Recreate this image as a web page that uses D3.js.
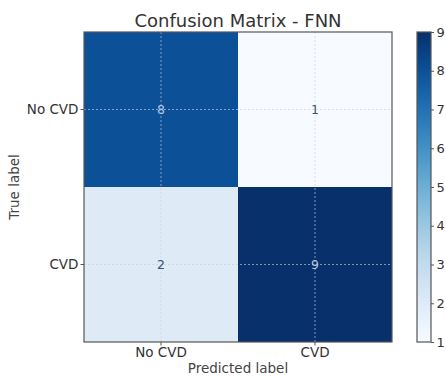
<!DOCTYPE html>
<html><head><meta charset="utf-8">
<script src="https://cdn.jsdelivr.net/npm/d3@7"></script>
<style>body{margin:0;background:#fff}svg{display:block}text{font-family:"DejaVu Sans",sans-serif}</style>
</head><body><svg id="c" width="446" height="376"></svg>
<script>
const trueLabels = ["No CVD", "CVD"];
const predLabels = ["No CVD", "CVD"];
const matrix = [[8, 1], [2, 9]];
const cbTicks = [1, 2, 3, 4, 5, 6, 7, 8, 9];
const title = "Confusion Matrix - FNN";

const svg = d3.select("#c");
const L = 84, R = 392, T = 32, B = 342;
const x = d3.scaleBand().domain(predLabels).range([L, R]);
const y = d3.scaleBand().domain(trueLabels).range([T, B]);
const color = d3.scaleSequential(d3.interpolateBlues).domain([1, 9]);

const cells = [];
matrix.forEach((row, i) => row.forEach((v, j) => cells.push({t: trueLabels[i], p: predLabels[j], v})));

svg.append("g").selectAll("rect").data(cells).join("rect")
  .attr("x", d => x(d.p)).attr("y", d => y(d.t))
  .attr("width", x.bandwidth()).attr("height", y.bandwidth())
  .attr("fill", d => color(d.v));

// grid
const g = svg.append("g").attr("stroke", "#c8d0dc").attr("stroke-dasharray", "2,2").attr("stroke-width", 0.8).attr("opacity", 0.8);
predLabels.forEach(p => g.append("line").attr("x1", x(p) + x.bandwidth()/2).attr("x2", x(p) + x.bandwidth()/2).attr("y1", T).attr("y2", B));
trueLabels.forEach(t => g.append("line").attr("y1", y(t) + y.bandwidth()/2).attr("y2", y(t) + y.bandwidth()/2).attr("x1", L).attr("x2", R));

svg.append("g").selectAll("text").data(cells).join("text")
  .attr("x", d => x(d.p) + x.bandwidth()/2).attr("y", d => y(d.t) + y.bandwidth()/2)
  .attr("text-anchor", "middle").attr("dominant-baseline", "central")
  .attr("font-size", 12.5)
  .attr("fill", d => d.v > 5 ? "#b4c8e0" : "#3c5070")
  .text(d => d.v);

svg.append("rect").attr("x", L).attr("y", T).attr("width", R - L).attr("height", B - T)
  .attr("fill", "none").attr("stroke", "#555").attr("stroke-width", 1.2);

const xAxis = svg.append("g").attr("transform", `translate(0,${B})`)
  .call(d3.axisBottom(x).tickSize(3.5).tickPadding(2));
const yAxis = svg.append("g").attr("transform", `translate(${L},0)`)
  .call(d3.axisLeft(y).tickSize(3.5).tickPadding(2));
[xAxis, yAxis].forEach(a => {
  a.select(".domain").remove();
  a.selectAll("line").attr("stroke", "#555");
  a.selectAll("text").attr("font-size", 13.5).attr("fill", "#333").attr("font-family", "DejaVu Sans, sans-serif");
});

svg.append("text").attr("x", (L + R)/2).attr("y", 27).attr("text-anchor", "middle")
  .attr("font-size", 18).attr("fill", "#333").text(title);
svg.append("text").attr("x", (L + R)/2).attr("y", 373).attr("text-anchor", "middle")
  .attr("font-size", 13.5).attr("fill", "#444").text("Predicted label");
svg.append("text").attr("transform", `translate(19,${(T + B)/2}) rotate(-90)`).attr("text-anchor", "middle")
  .attr("font-size", 13.5).attr("fill", "#444").text("True label");

// colorbar
const cbX = 417, cbW = 14;
const cy = d3.scaleLinear().domain([1, 9]).range([B, T]);
const defs = svg.append("defs");
const grad = defs.append("linearGradient").attr("id", "cb").attr("x1", 0).attr("x2", 0).attr("y1", 1).attr("y2", 0);
d3.range(0, 1.0001, 0.1).forEach(t => grad.append("stop").attr("offset", t).attr("stop-color", d3.interpolateBlues(t)));
svg.append("rect").attr("x", cbX).attr("y", T).attr("width", cbW).attr("height", B - T).attr("fill", "url(#cb)")
  .attr("stroke", "#555").attr("stroke-width", 1.2);
const cbAxis = svg.append("g").attr("transform", `translate(${cbX + cbW},0)`)
  .call(d3.axisRight(cy).tickValues(cbTicks).tickFormat(d3.format("d")).tickSize(3).tickPadding(2.5));
cbAxis.select(".domain").remove();
cbAxis.selectAll("line").attr("stroke", "#555");
cbAxis.selectAll("text").attr("font-size", 13).attr("fill", "#333").attr("font-family", "DejaVu Sans, sans-serif");
</script></body></html>
